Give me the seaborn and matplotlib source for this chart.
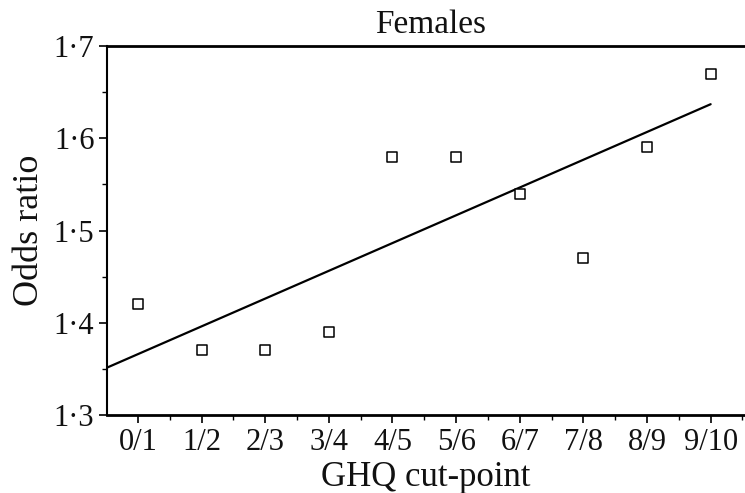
import numpy as np
import pandas as pd
import matplotlib
matplotlib.use("Agg")
import matplotlib.pyplot as plt
import seaborn as sns
from matplotlib.ticker import MultipleLocator, FixedLocator, FuncFormatter

categories = ["0/1", "1/2", "2/3", "3/4", "4/5", "5/6", "6/7", "7/8", "8/9", "9/10"]
odds_ratio = [1.42, 1.37, 1.37, 1.39, 1.58, 1.58, 1.54, 1.47, 1.59, 1.67]
y_ticks = [1.3, 1.4, 1.5, 1.6, 1.7]
# fitted trend line as printed (value at "0/1" and change per cut-point)
trend_intercept = 1.366
trend_slope = 0.0301

sns.set_theme(style="ticks")
plt.rcParams["font.family"] = ["Liberation Serif", "DejaVu Serif"]

df = pd.DataFrame({"pos": np.arange(len(categories)), "cat": categories, "odds": odds_ratio})

fig = plt.figure(figsize=(7.45, 4.93), dpi=100)
ax = fig.add_axes([0.1436, 0.1582, 0.8564, 0.7485])

xmin, xmax = -0.487, 9.54
fit_x = np.array([xmin, df["pos"].max()])
fit = pd.DataFrame({"x": fit_x, "y": trend_intercept + trend_slope * fit_x})
sns.lineplot(data=fit, x="x", y="y", ax=ax, color="black", linewidth=1.6)

sns.scatterplot(data=df, x="pos", y="odds", ax=ax, marker="s", s=45,
                facecolor="white", edgecolor="black", linewidth=1.1, zorder=3)

ax.set_xlim(xmin, xmax)
ax.set_ylim(1.3, 1.7)
ax.xaxis.set_major_locator(FixedLocator(df["pos"].tolist()))
ax.set_xticklabels(categories)
ax.xaxis.set_minor_locator(FixedLocator((df["pos"] + 0.5).tolist()))
ax.yaxis.set_major_locator(FixedLocator(y_ticks))
ax.yaxis.set_minor_locator(MultipleLocator(0.05))
ax.yaxis.set_major_formatter(FuncFormatter(lambda v, p: f"{v:.1f}".replace(".", "\u00b7")))

ax.tick_params(axis="both", which="major", direction="out", length=6, width=1.2,
               labelsize=22, color="black", labelcolor="#111111", pad=3)
ax.tick_params(axis="both", which="minor", direction="out", length=3.5, width=1.0, color="black")

for side in ["left", "bottom", "top"]:
    ax.spines[side].set_color("black")
ax.spines["left"].set_linewidth(1.5)
ax.spines["bottom"].set_linewidth(2.0)
ax.spines["top"].set_linewidth(2.0)
ax.spines["right"].set_visible(False)

ax.set_xlabel("GHQ cut-point", fontsize=25, color="#111111", labelpad=3)
ax.set_ylabel("Odds ratio", fontsize=26, color="#111111", labelpad=6)
ax.set_title("Females", fontsize=24, color="#111111", pad=9, x=0.507)

fig.savefig("out.png", dpi=100)
